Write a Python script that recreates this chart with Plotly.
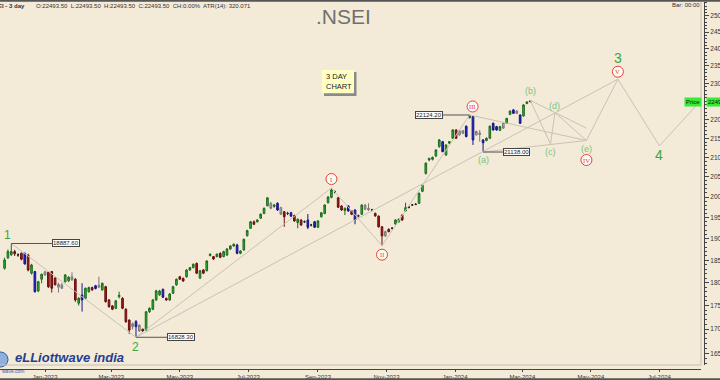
import numpy as np
import pandas as pd
import plotly.graph_objects as go

# ---------------- data ----------------
bar_end = "2024-03-08"   # 3-day bars
kinds = ("g g g r x r b r g b "
         "g g k r r r k k g g "
         "k r g b g g r b k g "
         "r r r g g r r r k b "
         "k r g g g g g b r g "
         "g g r r g g g r g r "
         "g g r g r g g g g b "
         "g g g g r g g g g k "
         "g b k r x b r g r x "
         "b x b g g g g g x r "
         "r g b r b x g k k x "
         "r r r k r x g g r g "
         "x x x g g g g g g g "
         "b g g g r k k b g b "
         "k k b g g b b g k g "
         "g b k b g g r").split()

opens = [18320, 18560, 18630, 18700, 18620, 18660, 18660, 18620, 18210, 18245,
         17815, 18075, 18170, 18230, 18245, 18100, 17900, 17950, 18020, 18040,
         18130, 18075, 17550, 17728, 17655, 17800, 17890, 17870, 17900, 17840,
         17910, 17620, 17490, 17440, 17690, 17655, 17420, 17190, 17050, 17155,
         16960, 16995, 16982, 17365, 17420, 17620, 17730, 17850, 17655, 17620,
         17765, 17950, 18130, 18095, 18130, 18282, 18335, 18430, 18100, 18282,
         18265, 18610, 18585, 18585, 18660, 18585, 18623, 18760, 18830, 18853,
         18660, 18738, 19070, 19245, 19400, 19400, 19485, 19600, 19785, 19840,
         19765, 19845, 19740, 19640, 19600, 19615, 19550, 19380, 19442, 19400,
         19442, 19323, 19400, 19270, 19520, 19600, 19860, 19990, 20125, 19980,
         19780, 19670, 19780, 19660, 19683, 19540, 19580, 19700, 19725, 19683,
         19600, 19535, 19280, 19065, 19220, 19245, 19345, 19400, 19562, 19660,
         19750, 19804, 19820, 19845, 20140, 20590, 20933, 20950, 21036, 21280,
         21410, 21062, 21370, 21500, 21720, 21590, 21700, 21820, 22050, 22080,
         21590, 21640, 21455, 21440, 21500, 21900, 21810, 21710, 21900, 21900,
         22140, 22263, 22170, 22124, 22100, 22440, 22510]
highs = [18560, 18750, 18887.6, 18740, 18660, 18680, 18680, 18650, 18420, 18260,
         18040, 18200, 18260, 18250, 18260, 18120, 18000, 17990, 18190, 18140,
         18230, 18100, 17680, 17985, 17890, 17910, 17910, 17950, 18130, 18000,
         17930, 17640, 17510, 17620, 17800, 17680, 17440, 17200, 17140, 17190,
         17100, 17010, 17380, 17460, 17640, 17840, 17840, 17870, 17670, 17770,
         17930, 18090, 18150, 18110, 18300, 18350, 18430, 18450, 18280, 18300,
         18500, 18660, 18600, 18660, 18680, 18720, 18780, 18850, 18890, 18880,
         18730, 19000, 19210, 19420, 19430, 19460, 19600, 19740, 19991, 19880,
         19830, 19870, 19760, 19660, 19640, 19640, 19570, 19480, 19460, 19430,
         19585, 19350, 19420, 19440, 19630, 19820, 20020, 20222, 20160, 20000,
         19800, 19740, 19800, 19680, 19700, 19570, 19820, 19830, 19845, 19710,
         19620, 19550, 19300, 19190, 19240, 19270, 19460, 19480, 19580, 19860,
         19780, 19830, 19850, 20110, 20310, 20870, 20990, 21020, 21210, 21480,
         21430, 21340, 21420, 21740, 21740, 21720, 21720, 21840, 22124.2, 22100,
         21700, 21720, 21480, 21520, 21840, 21920, 21830, 21830, 21920, 22050,
         22250, 22290, 22260, 22140, 22420, 22500, 22526]
lows = [18290, 18530, 18600, 18600, 18580, 18500, 18400, 18250, 18180, 17780,
        17790, 17985, 18150, 17880, 17780, 17940, 17780, 17860, 18000, 18010,
        18040, 17580, 17500, 17370, 17640, 17780, 17820, 17850, 17880, 17820,
        17560, 17450, 17400, 17420, 17655, 17420, 17130, 16900, 16990, 16828.3,
        16940, 16940, 16960, 17340, 17400, 17600, 17710, 17660, 17600, 17600,
        17750, 17930, 18060, 18020, 18110, 18260, 18320, 18190, 18080, 18190,
        18250, 18590, 18510, 18570, 18550, 18570, 18600, 18740, 18810, 18640,
        18640, 18720, 19050, 19230, 19320, 19380, 19470, 19580, 19770, 19700,
        19740, 19660, 19560, 19280, 19560, 19510, 19400, 19245, 19300, 19370,
        19225, 19290, 19250, 19250, 19500, 19580, 19840, 19970, 20090, 19730,
        19660, 19560, 19640, 19560, 19340, 19510, 19560, 19680, 19660, 19650,
        19520, 19260, 18837, 19040, 19150, 19220, 19330, 19380, 19420, 19640,
        19720, 19780, 19800, 19830, 20120, 20560, 20900, 20920, 21010, 21250,
        21130, 21040, 21350, 21480, 21480, 21570, 21610, 21520, 22030, 21323,
        21570, 21410, 21138, 21420, 21480, 21700, 21700, 21690, 21750, 21880,
        22120, 22150, 22150, 21880, 22080, 22420, 22470]
closes = [18510, 18700, 18700, 18650, 18625, 18525, 18420, 18280, 18395, 17800,
          18020, 18185, 18240, 17910, 17875, 17950, 17960, 17875, 18170, 18120,
          18060, 17620, 17655, 17620, 17875, 17890, 17840, 17930, 17940, 17985,
          17585, 17475, 17420, 17600, 17720, 17440, 17155, 16980, 17110, 17050,
          17080, 16960, 17365, 17440, 17620, 17820, 17815, 17680, 17620, 17750,
          17910, 18075, 18075, 18035, 18280, 18335, 18410, 18210, 18265, 18210,
          18486, 18640, 18530, 18640, 18570, 18700, 18760, 18830, 18870, 18660,
          18715, 18985, 19190, 19400, 19340, 19442, 19580, 19725, 19980, 19725,
          19804, 19683, 19580, 19520, 19600, 19535, 19420, 19460, 19323, 19400,
          19270, 19323, 19270, 19420, 19615, 19804, 20000, 20174, 20125, 19750,
          19683, 19725, 19660, 19580, 19442, 19540, 19804, 19800, 19690, 19683,
          19540, 19280, 19065, 19165, 19165, 19245, 19442, 19460, 19442, 19740,
          19750, 19804, 19820, 20090, 20290, 20850, 20975, 21000, 21192, 21455,
          21150, 21323, 21410, 21720, 21500, 21700, 21630, 21545, 22110, 21455,
          21680, 21600, 21380, 21500, 21820, 21720, 21720, 21810, 21770, 22030,
          22230, 22170, 22230, 21900, 22400, 22480, 22493.5]

# Elliott wave points
wave_names = ["1", "2", "i", "ii", "iii", "a", "b", "c", "d", "e", "v", "4", "end"]
wave_dates = ["2022-12-02", "2023-03-23", "2023-09-13", "2023-10-28", "2024-01-14",
              "2024-01-26", "2024-03-08", "2024-03-26", "2024-03-30", "2024-04-27",
              "2024-05-25", "2024-07-01", "2024-08-06"]
wave_prices = [18887.6, 16828.3, 20222, 18837, 22124.2, 21138, 22526, 21350,
               22190, 21440, 23120, 21300, 22493.5]
trend_pairs = [("1", "2"), ("2", "i"), ("2", "v"), ("i", "ii"), ("ii", "iii"),
               ("iii", "e"), ("a", "e"), ("b", "c"), ("c", "d"), ("d", "e"),
               ("b", "d+"), ("e", "v"), ("v", "4"), ("4", "end")]

month_ticks = ["2023-01-01", "2023-03-01", "2023-05-01", "2023-07-01", "2023-09-01",
               "2023-11-01", "2024-01-01", "2024-03-01", "2024-05-01", "2024-07-01"]
month_text = ["Jan-2023", "Mar-2023", "May-2023", "Jul-2023", "Sep-2023",
              "Nov-2023", "Jan-2024", "Mar-2024", "May-2024", "Jul-2024"]
price_ticks = list(range(16500, 25001, 500))
minor_ticks = [v for v in range(16300, 25401, 100) if v % 500]

# ---------------- figure ----------------
W, H = 720, 380
BG = "#f3ead8"
XR = ["2022-11-21 22:34", "2024-08-07 00:00"]
YR = [4.211228, 4.405263]
PLOT_W, PLOT_H = 701.0, 363.0
px_per_day = PLOT_W / ((pd.Timestamp(XR[1]) - pd.Timestamp(XR[0])).total_seconds() / 86400)
px_per_dec = PLOT_H / (YR[1] - YR[0])

dates = pd.date_range(end=bar_end, periods=len(opens), freq="3D")
wp = {n: (pd.Timestamp(d), p) for n, d, p in zip(wave_names, wave_dates, wave_prices)}
(tb, pb), (td, pd_) = wp["b"], wp["d"]
te = wp["e"][0]
slope = (np.log10(pd_) - np.log10(pb)) / (td - tb).days
wp["d+"] = (te, 10 ** (np.log10(pb) + slope * (te - tb).days))

fig = go.Figure()
lx, ly = [], []
for a, b in trend_pairs:
    lx += [wp[a][0], wp[b][0], None]
    ly += [wp[a][1], wp[b][1], None]
fig.add_trace(go.Scatter(x=lx, y=ly, mode="lines", line=dict(color="#c9c2b5", width=1),
                         hoverinfo="skip", showlegend=False))

styles = {"g": ("#2fb52f", "#1d6b1d"), "r": ("#a31b1b", "#6b0f0f"),
          "b": ("#2626cc", "#15158a"), "k": ("#b0b0b0", "#7a7a7a"),
          "x": ("#222222", "#222222")}
o, h, l, c = map(np.array, (opens, highs, lows, closes))
for k, (fc, lc) in styles.items():
    idx = [i for i, kk in enumerate(kinds) if kk == k]
    st = dict(fillcolor=fc, line=dict(color=lc, width=1))
    fig.add_trace(go.Candlestick(x=dates[idx], open=o[idx], high=h[idx], low=l[idx],
                                 close=c[idx], increasing=st, decreasing=st,
                                 whiskerwidth=0, showlegend=False, hoverinfo="skip"))

PW = 704.0
PH = 367.0
def px(xp):
    return xp / PW
def py(yp):
    return (369 - yp) / PH

ann = []
shapes = []
green = "#3aa83a"
lgreen = "#7cc47c"
red = "#e8413a"

def wlabel(name, text, dy, dx=0, size=9, color=lgreen):
    d, p = wp[name]
    ann.append(dict(x=d, y=np.log10(p), xref="x", yref="y", text=text, showarrow=False,
                    xshift=dx, yshift=dy, xanchor="center", yanchor="middle",
                    font=dict(size=size, color=color, family="Liberation Sans")))

wlabel("1", "1", 8, -4, 12, green)
wlabel("2", "2", -10, 0, 12, green)
wlabel("v", "3", 21, 0, 14, green)
wlabel("4", "4", -9, 0, 14, green)
for nm, dy in [("a", -8), ("b", 9), ("c", -8), ("d", 7), ("e", -8)]:
    wlabel(nm, "(" + nm + ")", dy)

# red circled roman numerals
cx, cy = [], []
for nm, txt, dy, dx in [("i", "I", 9, 0), ("ii", "II", -9, 0), ("iii", "III", 8.5, 3),
                        ("e", "IV", -19.5, 0), ("v", "V", 7.5, 0)]:
    d, p = wp[nm]
    cx.append(d + pd.Timedelta(days=dx / px_per_day))
    cy.append(p * 10 ** (dy / px_per_dec))
    ann.append(dict(x=d, y=np.log10(p), xref="x", yref="y", text=txt, showarrow=False,
                    xshift=dx, yshift=dy, xanchor="center", yanchor="middle",
                    font=dict(size=6.5, color=red, family="Liberation Serif")))
fig.add_trace(go.Scatter(x=cx, y=cy, mode="markers", hoverinfo="skip", showlegend=False,
                         marker=dict(symbol="circle", size=11,
                                     color="rgba(255,255,255,0.75)",
                                     line=dict(color=red, width=1))))

for nm, txt, axo in [("1", "18887.60", 55), ("2", "16828.30", 45),
                     ("iii", "22124.20", -41), ("a", "21138.00", 33)]:
    d, p = wp[nm]
    ann.append(dict(x=d, y=np.log10(p), xref="x", yref="y", text=txt, showarrow=True,
                    ax=axo, ay=0, arrowhead=0, arrowwidth=1, arrowcolor="#555555",
                    bgcolor="#ffffff", bordercolor="#444444", borderwidth=1, borderpad=0,
                    font=dict(size=6, color="#222222", family="Liberation Sans")))

def ptext(xp, yp, text, size, color, xanchor="left", weight="normal", **kw):
    ann.append(dict(x=px(xp), y=py(yp), xref="paper", yref="paper", text=text,
                    xanchor=xanchor, yanchor="middle", showarrow=False,
                    font=dict(size=size, color=color, family="Liberation Sans",
                              weight=weight), **kw))

ptext(27, 6, ".NSEI - 3 day", 6, "#333333", xanchor="right", weight="bold")
ptext(34, 6, "O:22493.50  L:22493.50  H:22493.50  C:22493.50  CH:0.00%  ATR(14): 320.071",
      6, "#333333")
ptext(670, 5.5, "Bar: 00:00", 6, "#333333")
ptext(343, 16, ".NSEI", 21, "#707070", xanchor="center")

# 3 DAY CHART note
shapes.append(dict(type="rect", xref="paper", yref="paper", x0=px(324), x1=px(356.5),
                   y0=py(96), y1=py(72), fillcolor="#8a8a8a", line=dict(width=0)))
shapes.append(dict(type="rect", xref="paper", yref="paper", x0=px(321.7), x1=px(354),
                   y0=py(93.3), y1=py(70), fillcolor="#ffffc4", line=dict(width=0)))
ptext(323.5, 81.5, "3 DAY<br>CHART", 7.5, "#222222", align="left")

# price tags
lastp = closes[-1]
ann.append(dict(x=px(692.5), y=np.log10(lastp), xref="paper", yref="y", text="Price",
                xanchor="center", yanchor="middle", showarrow=False, bgcolor="#33ee33",
                borderpad=1, font=dict(size=6, color="#111111", family="Liberation Sans")))
ann.append(dict(x=px(706), y=np.log10(lastp), xref="paper", yref="y", text="22493.50",
                xanchor="left", yanchor="middle", showarrow=False, bgcolor="#33ee33",
                borderpad=1, font=dict(size=6, color="#111111", family="Liberation Sans")))

# logo
shapes.append(dict(type="circle", xref="paper", yref="paper", x0=px(-7), x1=px(8),
                   y0=py(367), y1=py(352), fillcolor="#8fb0dc",
                   line=dict(color="#2d5aa0", width=1)))
ann.append(dict(x=px(13), y=py(357.5), xref="paper", yref="paper", text="eLLiottwave india",
                xanchor="left", yanchor="middle", showarrow=False,
                font=dict(size=13, color="#1f3f8f", family="Liberation Sans",
                          weight="bold", style="italic")))
ptext(0, 370.5, "wave.com", 5, "#4060a0")

# frame lines
shapes.append(dict(type="line", xref="x domain", yref="y domain", x0=1, x1=1, y0=0, y1=1,
                   line=dict(color="#c4c0b8", width=1)))
shapes.append(dict(type="line", xref="x domain", yref="y domain", x0=0, x1=1, y0=0, y1=0,
                   line=dict(color="#c4c0b8", width=1)))
shapes.append(dict(type="line", xref="paper", yref="paper", x0=-0.01, x1=1.03,
                   y0=py(0.7), y1=py(0.7), line=dict(color="#555555", width=2)))
shapes.append(dict(type="line", xref="paper", yref="paper", x0=-0.01, x1=1.03,
                   y0=py(379.3), y1=py(379.3), line=dict(color="#555555", width=2)))

fig.update_layout(
    width=W, height=H, autosize=False,
    margin=dict(l=0, r=16, t=2, b=11, autoexpand=False),
    paper_bgcolor=BG, plot_bgcolor=BG,
    showlegend=False,
    annotations=ann, shapes=shapes,
    xaxis=dict(type="date", range=XR, automargin=False,
               domain=[0, 701 / 704], anchor="free", position=0,
               tickvals=month_ticks, ticktext=month_text, ticks="outside", ticklen=2,
               tickcolor="#444444", showline=True, linecolor="#444444", linewidth=1,
               showgrid=False, zeroline=False, rangeslider=dict(visible=False),
               tickfont=dict(size=6, color="#333333", family="Liberation Sans")),
    yaxis=dict(type="log", range=YR, domain=[4 / 367, 1], automargin=False,
               side="right", anchor="free", position=1,
               tickvals=price_ticks, ticktext=[str(v) for v in price_ticks],
               ticks="outside", ticklen=4, tickcolor="#444444",
               minor=dict(tickvals=minor_ticks, ticks="outside", ticklen=2,
                          tickcolor="#444444"),
               showline=True, linecolor="#444444", linewidth=1,
               showgrid=False, zeroline=False,
               tickfont=dict(size=6.5, color="#333333", family="Liberation Sans")),
)

fig.write_html("out.html",
               config={"displayModeBar": False, "responsive": False},
               post_script="document.body.style.margin='0px';"
                           "document.body.style.overflow='hidden';")
